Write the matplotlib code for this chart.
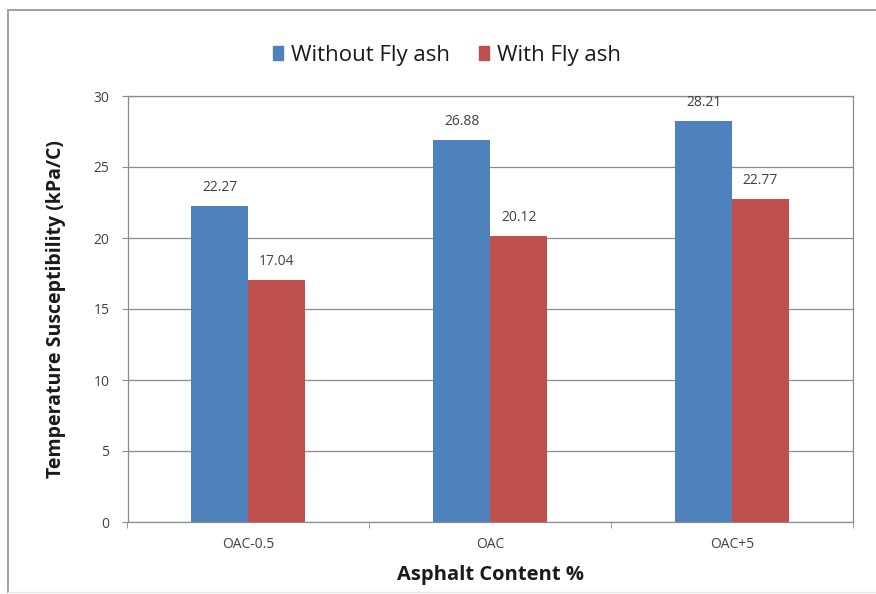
import matplotlib
matplotlib.use("Agg")
import matplotlib.pyplot as plt
from matplotlib.lines import Line2D
from matplotlib.patches import Rectangle
import numpy as np

categories = ["OAC-0.5", "OAC", "OAC+5"]
without_fly_ash = [22.27, 26.88, 28.21]
with_fly_ash = [17.04, 20.12, 22.77]
series_names = ["Without Fly ash", "With Fly ash"]
y_ticks = [0, 5, 10, 15, 20, 25, 30]

W, H = 876, 594
fig = plt.figure(figsize=(W / 100, H / 100), dpi=100)
fig.patch.set_facecolor("white")

font = "Open Sans"
blue = "#4F81BD"
red = "#C0504D"
grid_c = "#8C8C8C"

# frame lines around the chart object
fig.add_artist(Line2D([8 / W, 1.0], [1 - 9.5 / H, 1 - 9.5 / H], color="#a0a0a0", lw=1.4, transform=fig.transFigure))
fig.add_artist(Line2D([8 / W, 8 / W], [1 - 9.5 / H, 1 - 592 / H], color="#a0a0a0", lw=1.4, transform=fig.transFigure))
fig.add_artist(Line2D([8 / W, 1.0], [1 - 592 / H, 1 - 592 / H], color="#e6e6e6", lw=1.0, transform=fig.transFigure))

left, right, top, bottom = 127.5, 853, 96, 522
ax = fig.add_axes([left / W, 1 - bottom / H, (right - left) / W, (bottom - top) / H])

x = np.arange(len(categories))
bw = 0.2355
b1 = ax.bar(x - bw / 2, without_fly_ash, width=bw, color=blue, zorder=3)
b2 = ax.bar(x + bw / 2, with_fly_ash, width=bw, color=red, zorder=3)

for bars, vals in ((b1, without_fly_ash), (b2, with_fly_ash)):
    for rect, v in zip(bars, vals):
        ax.annotate(f"{v:.2f}", (rect.get_x() + rect.get_width() / 2, v),
                    xytext=(0, 8), textcoords="offset points", ha="center", va="bottom",
                    fontsize=10, color="#404040", family=font)

ax.set_xlim(-0.5, len(categories) - 0.5)
ax.set_ylim(0, 30)
ax.set_yticks(y_ticks)
ax.set_yticklabels([str(t) for t in y_ticks], fontsize=10, color="#404040", family=font)
ax.set_xticks(x)
ax.set_xticklabels(categories, fontsize=10, color="#404040", family=font)
ax.tick_params(axis="x", which="major", length=0, pad=11)
ax.set_xticks(np.arange(-0.5, len(categories), 1.0), minor=True)
ax.tick_params(axis="x", which="minor", length=4, color=grid_c, direction="out")
ax.tick_params(axis="y", length=4, color=grid_c, direction="out", pad=9)

ax.yaxis.grid(True, color=grid_c, lw=0.9, zorder=0)
ax.set_axisbelow(True)
for s in ("left", "bottom", "right", "top"):
    ax.spines[s].set_color(grid_c)
    ax.spines[s].set_linewidth(0.9)

ax.set_ylabel("Temperature Susceptibility (kPa/C)", fontsize=14, fontweight="bold",
              family=font, color="#1a1a1a", labelpad=20)
ax.set_xlabel("Asphalt Content %", fontsize=14.5, fontweight="bold", family=font,
              color="#1a1a1a", labelpad=9)

handles = [Rectangle((0, 0), 1, 1, color=blue), Rectangle((0, 0), 1, 1, color=red)]
fig.legend(handles, series_names, loc="center", bbox_to_anchor=(447 / W, 1 - 55 / H),
           ncol=2, frameon=False, prop={"family": font, "size": 16},
           handlelength=0.45, handleheight=0.6, handletextpad=0.35, columnspacing=1.3,
           labelcolor="#1a1a1a")

fig.savefig("out.png", dpi=100, facecolor="white")
